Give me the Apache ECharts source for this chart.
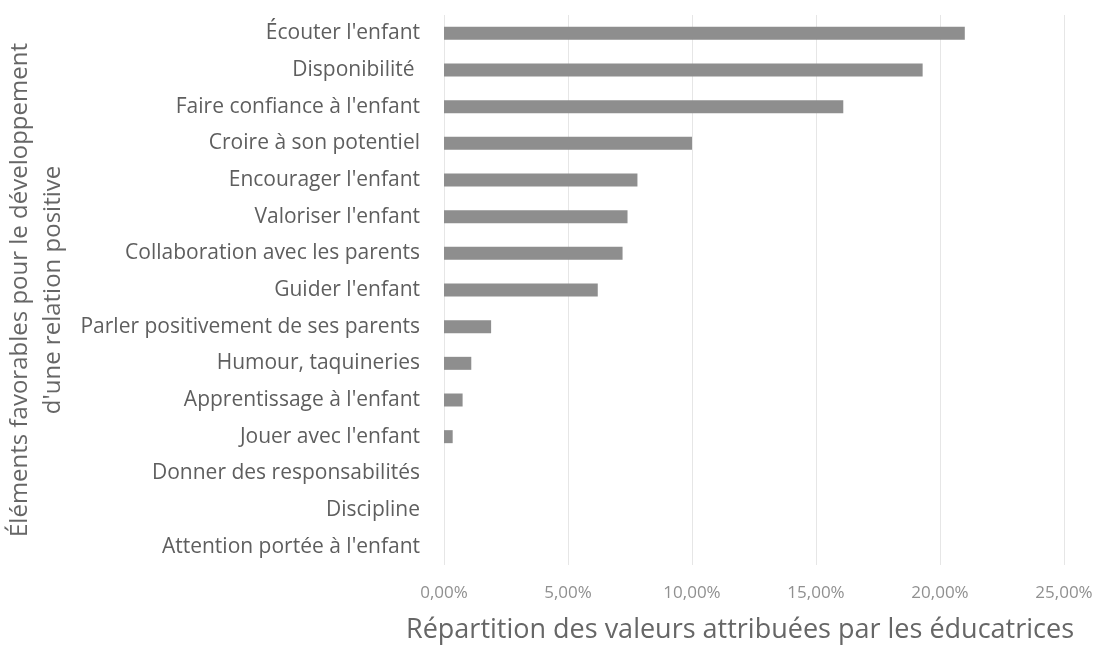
<!DOCTYPE html>
<html>
<head>
<meta charset="utf-8">
<script src="https://cdn.jsdelivr.net/npm/echarts@6/dist/echarts.min.js"></script>
<style>
html,body{margin:0;padding:0;background:#fff;}
#c{width:1098px;height:645px;}
</style>
</head>
<body>
<div id="c"></div>
<script>
const categories = [
  "Écouter l'enfant",
  "Disponibilité ",
  "Faire confiance à l'enfant",
  "Croire à son potentiel",
  "Encourager l'enfant",
  "Valoriser l'enfant",
  "Collaboration avec les parents",
  "Guider l'enfant",
  "Parler positivement de ses parents",
  "Humour, taquineries",
  "Apprentissage à l'enfant",
  "Jouer avec l'enfant",
  "Donner des responsabilités",
  "Discipline",
  "Attention portée à l'enfant"
];
const values = [21.0, 19.3, 16.1, 10.0, 7.8, 7.4, 7.2, 6.2, 1.9, 1.1, 0.75, 0.35, 0, 0, 0];
const xTicks = [0, 5, 10, 15, 20, 25];
const xTitle = "Répartition des valeurs attribuées par les éducatrices";
const yTitle = "Éléments favorables pour le développement\nd'une relation positive";

const chart = echarts.init(document.getElementById('c'), null, {renderer: 'canvas'});
const font = "'Open Sans', sans-serif";
chart.setOption({
  animation: false,
  grid: {left: 444, right: 34, top: 15, bottom: 80, containLabel: false, outerBoundsMode: 'none'},
  xAxis: {
    type: 'value', min: xTicks[0], max: xTicks[xTicks.length - 1], interval: 5,
    axisLine: {show: false}, axisTick: {show: false},
    splitLine: {show: true, lineStyle: {color: '#e6e6e6', width: 1}},
    axisLabel: {
      color: '#909090', fontFamily: font, fontSize: 17, margin: 20,
      formatter: v => v.toFixed(2).replace('.', ',') + '%'
    },
    name: xTitle, nameLocation: 'middle', nameGap: 65,
    nameTextStyle: {color: '#666', fontFamily: font, fontSize: 27, verticalAlign: 'middle', padding: [0, 28, 0, 0]}
  },
  yAxis: {
    type: 'category', data: categories, inverse: true,
    axisLine: {show: false}, axisTick: {show: false},
    axisLabel: {color: '#5e5e5e', fontFamily: font, fontSize: 21, margin: 24},
    name: yTitle, nameLocation: 'middle', nameGap: 388, nameRotate: 90,
    nameTextStyle: {color: '#666', fontFamily: font, fontSize: 24, lineHeight: 33, align: 'center', verticalAlign: 'middle'}
  },
  series: [{
    type: 'bar', data: values, barWidth: 13,
    itemStyle: {color: '#8e8e8e'}
  }]
});
</script>
</body>
</html>
